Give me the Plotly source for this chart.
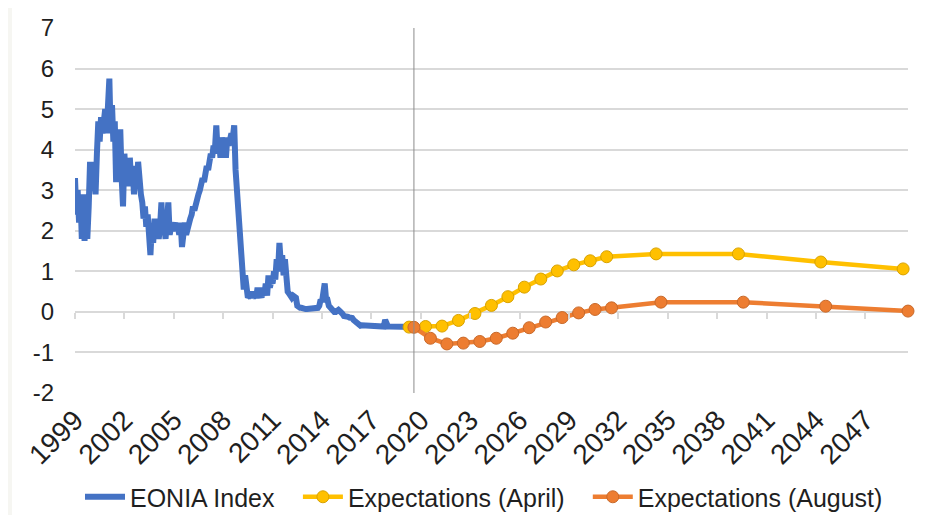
import pandas as pd
import plotly.graph_objects as go

# ---------------- data ----------------
# EONIA index, monthly readings (Jan 1999 .. Aug 2019)
eonia_1999 = [3.3, 2.4, 3.0, 2.2, 2.9, 1.8, 2.7, 1.75, 2.9, 1.8, 2.6, 3.7]
eonia_2000 = [3.0, 3.7, 3.3, 2.9, 3.9, 4.7, 4.2, 4.8, 4.4, 4.9, 5.0, 4.4]
eonia_2001 = [5.2, 5.75, 4.4, 5.1, 4.2, 4.7, 3.2, 4.4, 3.6, 4.5, 3.3, 2.6]
eonia_2002 = [3.9, 3.2, 3.5, 3.1, 3.8, 3.2, 3.6, 2.9, 3.4, 3.1, 3.7, 2.9]
eonia_2003 = [2.9, 2.7, 2.3, 2.6, 2.1, 2.4, 1.9, 1.4, 2.1, 1.7, 2.3, 1.9]
eonia_2004 = [2.2, 1.8, 2.1, 2.7, 1.9, 2.2, 1.8, 2.1, 2.7, 1.9, 2.1, 2.0]
eonia_2005 = [2.1, 2.2, 2.0, 2.1, 1.9, 2.2, 1.6, 2.0, 2.2, 1.9, 2.1, 2.3]
eonia_2006 = [2.3, 2.4, 2.6, 2.5, 2.7, 2.8, 2.9, 3.0, 3.1, 3.3, 3.2, 3.5]
eonia_2007 = [3.6, 3.5, 3.8, 3.9, 3.8, 4.1, 4.0, 4.6, 3.9, 4.2, 3.8, 4.3]
eonia_2008 = [4.1, 4.2, 3.8, 4.3, 4.1, 4.2, 4.4, 4.3, 4.6, 3.5, 3.0, 2.3]
eonia_2009 = [1.6, 1.1, 0.7, 0.55, 0.9, 0.5, 0.35, 0.4, 0.35, 0.5, 0.35, 0.4]
eonia_2010 = [0.35, 0.6, 0.35, 0.45, 0.35, 0.6, 0.4, 0.7, 0.4, 0.9, 0.6, 0.75]
eonia_2011 = [0.7, 1.0, 0.8, 1.3, 1.0, 1.7, 1.2, 1.4, 0.9, 1.3, 0.7, 0.5]
eonia_2012 = [0.45, 0.4, 0.35, 0.4, 0.35, 0.35, 0.15, 0.1, 0.1, 0.1, 0.08, 0.07]
eonia_2013 = [0.07, 0.07, 0.07, 0.08, 0.08, 0.09, 0.09, 0.08, 0.08, 0.1, 0.15, 0.3]
eonia_2014 = [0.25, 0.4, 0.7, 0.3, 0.3, 0.15, 0.1, 0.05, 0.05, 0.0, 0.0, 0.05]
eonia_2015 = [0.05, 0.02, 0.0, -0.05, -0.1, -0.1, -0.12, -0.12, -0.14, -0.14, -0.15, -0.2]
eonia_2016 = [-0.24, -0.25, -0.3, -0.34, -0.34, -0.33, -0.33, -0.34, -0.34, -0.35, -0.35, -0.35]
eonia_2017 = [-0.35, -0.35, -0.35, -0.36, -0.36, -0.36, -0.36, -0.36, -0.36, -0.36, -0.2, -0.36]
eonia_2018 = [-0.36, -0.36, -0.36, -0.36, -0.36, -0.36, -0.36, -0.36, -0.36, -0.36, -0.36, -0.36]
eonia_2019 = [-0.37, -0.37, -0.37, -0.37, -0.37, -0.37, -0.37, -0.37]

# Market expectations of the overnight rate
april_dates = ["2019-04-15", "2020-04-15", "2021-04-15", "2022-04-15", "2023-04-15",
               "2024-04-15", "2025-04-15", "2026-04-15", "2027-04-15", "2028-04-15",
               "2029-04-15", "2030-04-15", "2031-04-15", "2034-04-15", "2039-04-15",
               "2044-04-15", "2049-04-15"]
april_values = [-0.375, -0.36, -0.35, -0.21, -0.04, 0.16, 0.375, 0.61, 0.81, 1.01,
                1.16, 1.26, 1.36, 1.43, 1.43, 1.23, 1.06]

august_dates = ["2019-08-01", "2020-08-01", "2021-08-01", "2022-08-01", "2023-08-01",
                "2024-08-01", "2025-08-01", "2026-08-01", "2027-08-01", "2028-08-01",
                "2029-08-01", "2030-08-01", "2031-08-01", "2034-08-01", "2039-08-01",
                "2044-08-01", "2049-08-01"]
august_values = [-0.38, -0.65, -0.79, -0.77, -0.73, -0.65, -0.525, -0.39, -0.25, -0.14,
                 -0.025, 0.06, 0.10, 0.24, 0.24, 0.14, 0.02]

tick_years = ["1999", "2002", "2005", "2008", "2011", "2014", "2017", "2020", "2023",
              "2026", "2029", "2032", "2035", "2038", "2041", "2044", "2047"]
y_ticks = [-2, -1, 0, 1, 2, 3, 4, 5, 6, 7]
y_tick_labels = ["-2", "-1", "0", "1", "2", "3", "4", "5", "6", "7"]
current_date = "2019-08-01"
x_start, x_end = "1999-01-01", "2049-08-01"

# ---------------- build ----------------
eonia_values = (eonia_1999 + eonia_2000 + eonia_2001 + eonia_2002 + eonia_2003 +
                eonia_2004 + eonia_2005 + eonia_2006 + eonia_2007 + eonia_2008 +
                eonia_2009 + eonia_2010 + eonia_2011 + eonia_2012 + eonia_2013 +
                eonia_2014 + eonia_2015 + eonia_2016 + eonia_2017 + eonia_2018 +
                eonia_2019)
eonia_dates = pd.date_range("1999-01-01", periods=len(eonia_values), freq="MS")
tick_dates = [f"{y}-01-01" for y in tick_years]

FONT = "Liberation Sans, Arial, sans-serif"
TXT = "#1f1f1f"
GRID = "#d9d9d9"

fig = go.Figure()
fig.add_trace(go.Scatter(
    x=eonia_dates, y=eonia_values, mode="lines", name="EONIA Index",
    line=dict(color="#4472C4", width=6), cliponaxis=False, legend="legend"))
fig.add_trace(go.Scatter(
    x=april_dates, y=april_values, mode="lines+markers", name="Expectations (April)",
    line=dict(color="#FFC000", width=4.5),
    marker=dict(size=12, color="#FFC000", line=dict(color="#D8A200", width=1)),
    cliponaxis=False, legend="legend2"))
fig.add_trace(go.Scatter(
    x=august_dates, y=august_values, mode="lines+markers", name="Expectations (August)",
    line=dict(color="#ED7D31", width=4.5),
    marker=dict(size=12, color="#ED7D31", line=dict(color="#C8692A", width=1)),
    cliponaxis=False, legend="legend3"))

# invisible helper trace on a second x-axis to draw tick marks on the zero line
fig.add_trace(go.Scatter(x=[x_start], y=[None], xaxis="x2", showlegend=False,
                         hoverinfo="skip"))

legend_style = dict(orientation="h", xanchor="left", y=-0.285, yanchor="middle",
                    font=dict(size=25, color=TXT), itemwidth=40,
                    bgcolor="rgba(0,0,0,0)", borderwidth=0)

# the page body adds an 8px offset, so the figure is 8px smaller than the window
fig.update_layout(
    width=944, height=507,
    margin=dict(l=67, r=44, t=20, b=122, autoexpand=False),
    paper_bgcolor="#F6F6F2", plot_bgcolor="white",
    font=dict(family=FONT, color=TXT, size=24),
    showlegend=True,
    legend=dict(x=0.006, **legend_style),
    legend2=dict(x=0.2676, **legend_style),
    legend3=dict(x=0.6156, **legend_style),
    xaxis=dict(type="date", range=[x_start, x_end], tickvals=tick_dates,
               ticktext=tick_years, tickangle=-45, showgrid=False, zeroline=False,
               showline=False, ticks="", automargin=False, ticklabelstandoff=4,
               tickfont=dict(size=28, color=TXT)),
    xaxis2=dict(type="date", range=[x_start, x_end], tickvals=tick_dates,
                overlaying="x", anchor="free", side="bottom",
                position=2 / 9, showticklabels=False, ticks="outside", ticklen=6,
                tickcolor=GRID, tickwidth=1.5, showgrid=False, zeroline=False,
                showline=False, automargin=False),
    yaxis=dict(range=[-2, 7], tickvals=y_ticks, ticktext=y_tick_labels,
               showgrid=True, gridcolor=GRID,
               gridwidth=1.5, zeroline=False, showline=False, ticks="",
               automargin=False, ticklabelstandoff=20,
               tickfont=dict(size=24, color=TXT)),
    shapes=[
        dict(type="rect", xref="paper", yref="paper", x0=-0.0756, x1=1.1,
             y0=-0.4, y1=1.1, fillcolor="white", line=dict(width=0), layer="below"),
        dict(type="line", xref="x", yref="y", x0=current_date, x1=current_date,
             y0=-2, y1=7, line=dict(color="#8c8c8c", width=1)),
    ],
)

fig.write_html("out.html")
